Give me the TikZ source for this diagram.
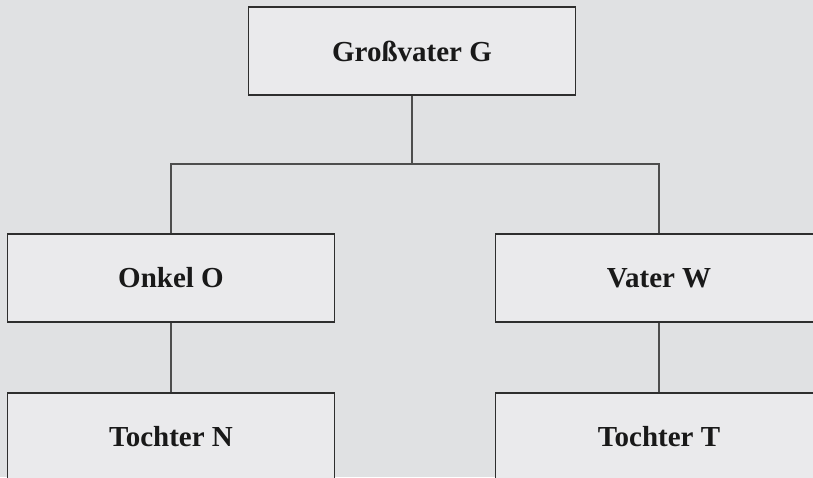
\documentclass[tikz,border=0pt]{standalone}
\usepackage{fontspec}
\setmainfont{Liberation Serif}
\definecolor{bgc}{HTML}{E0E1E3}
\definecolor{boxc}{HTML}{EAEAEC}
\definecolor{linec}{HTML}{2E2E2E}
\begin{document}
\begin{tikzpicture}[x=1pt,y=1pt,
  person/.style={rectangle, draw=linec, line width=1.2pt, fill=boxc, minimum width=327pt, minimum height=88pt, inner sep=0pt, font=\fontsize{29}{34}\selectfont\bfseries, text=black!90},
  link/.style={draw=linec!85, line width=1.1pt}]
\useasboundingbox (0,0) rectangle (813,477);
\clip (0,0) rectangle (813,477);
\fill[bgc] (0,0) rectangle (813,477);
\node[person] (G) at (412,426) {Großvater G};
\node[person] (O) at (171,199) {Onkel O};
\node[person] (V) at (659,199) {Vater W};
\node[person] (N) at (171,40) {Tochter N};
\node[person] (T) at (659,40) {Tochter T};
\coordinate (J) at (412,313);
\draw[link] (G.south) -- (J);
\draw[link] (O.north) |- (J) -| (V.north);
\draw[link] (O.south) -- (N.north);
\draw[link] (V.south) -- (T.north);
\end{tikzpicture}
\end{document}
